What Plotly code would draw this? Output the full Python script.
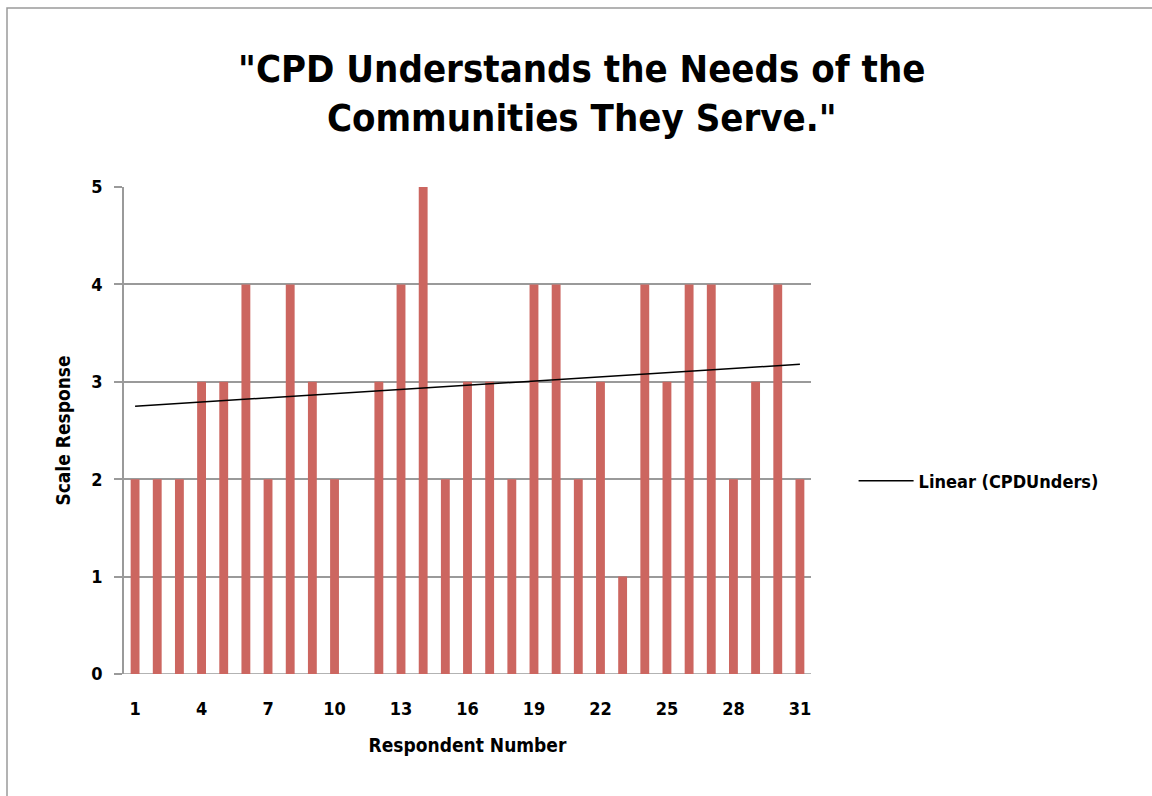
import numpy as np
import plotly.graph_objects as go

respondents = list(range(1, 32))
responses = [2, 2, 2, 3, 3, 4, 2, 4, 3, 2, None, 3, 4, 5, 2, 3, 3, 2, 4, 4,
             2, 3, 1, 4, 3, 4, 4, 2, 3, 4, 2]
x_ticks = [1, 4, 7, 10, 13, 16, 19, 22, 25, 28, 31]
y_ticks = [0, 1, 2, 3, 4, 5]

xs = np.array([x for x, v in zip(respondents, responses) if v is not None], float)
ys = np.array([v for v in responses if v is not None], float)
slope, intercept = np.polyfit(xs, ys, 1)
trend_x = [respondents[0], respondents[-1]]
trend_y = [slope * x + intercept for x in trend_x]

FONT = "DejaVu Sans Condensed, Roboto Condensed, Roboto, sans-serif"

fig = go.Figure()
fig.add_trace(go.Bar(x=respondents, y=responses, marker_color="#CC6660",
                     marker_line_width=0, showlegend=False, name="CPDUnders"))
fig.add_trace(go.Scatter(x=trend_x, y=trend_y, mode="lines",
                         line=dict(color="black", width=1.5),
                         name="Linear (CPDUnders)", showlegend=True))

fig.update_layout(
    width=1152, height=796,
    margin=dict(l=124, r=341, t=187, b=122),
    paper_bgcolor="white", plot_bgcolor="white",
    bargap=0.6,
    title=dict(text='"CPD Understands the Needs of the<br>Communities They Serve."',
               x=0.505, xanchor="center", xref="container",
               y=0.897, yanchor="top",
               font=dict(family=FONT, size=38, color="black", weight="bold")),
    xaxis=dict(range=[0.5, 31.5], tickvals=x_ticks, ticktext=[str(t) for t in x_ticks],
               showgrid=False, showline=False, zeroline=False, ticks="",
               ticklabelstandoff=22,
               tickfont=dict(family=FONT, size=18, color="black", weight="bold"),
               title=dict(text="Respondent Number", standoff=20,
                          font=dict(family=FONT, size=19, color="black", weight="bold"))),
    yaxis=dict(range=[0, 5], tickvals=y_ticks, showgrid=True, gridcolor="#9a9a9a",
               gridwidth=1.5, showline=True, linecolor="#9a9a9a", linewidth=1.5,
               ticks="outside", ticklen=8, tickcolor="#9a9a9a", tickwidth=1.5,
               zeroline=False, ticklabelstandoff=8,
               tickfont=dict(family=FONT, size=18, color="black", weight="bold"),
               title=dict(text="Scale Response", standoff=16,
                          font=dict(family=FONT, size=19, color="black", weight="bold"))),
    legend=dict(x=1.062, y=0.396, xanchor="left", yanchor="middle",
                bgcolor="rgba(0,0,0,0)", itemwidth=55,
                font=dict(family=FONT, size=18, color="black", weight="bold")),
)
# bottom axis gridline at 0
fig.add_shape(type="line", xref="paper", yref="y", x0=-0.012, x1=1, y0=0, y1=0,
              line=dict(color="#9a9a9a", width=1.5), layer="below")
# outer frame
fig.add_shape(type="rect", xref="paper", yref="paper",
              x0=(7 - 124) / 687, x1=(1170 - 124) / 687,
              y0=(674 - 810) / 487, y1=(674 - 8) / 487,
              line=dict(color="#9a9a9a", width=1.5))

fig.write_html("out.html")
